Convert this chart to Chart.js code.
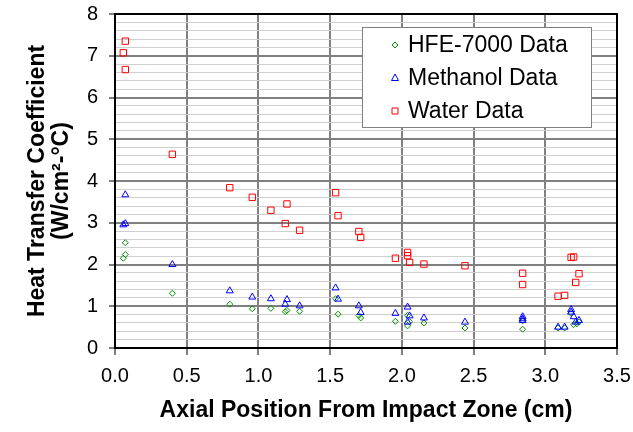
<!DOCTYPE html>
<html>
<head>
<meta charset="utf-8">
<script src="https://cdn.jsdelivr.net/npm/chart.js@4/dist/chart.umd.min.js"></script>
<style>
  html, body { margin: 0; padding: 0; background: #fff; }
  #wrap { width: 633px; height: 432px; }
</style>
</head>
<body>
<div id="wrap"><canvas id="myChart" width="633" height="432"></canvas></div>
<script>
// --- data
var hfeX = [0.072, 0.072, 0.058, 0.40, 0.80, 0.957, 1.087, 1.187, 1.199, 1.287, 1.538, 1.555, 1.70, 1.713, 1.955, 2.04, 2.054, 2.04, 2.154, 2.44, 2.842, 2.842, 3.089, 3.135, 3.18, 3.198, 3.22, 3.235];
var hfeY = [2.52, 2.24, 2.15, 1.31, 1.05, 0.94, 0.95, 0.87, 0.90, 0.88, 1.18, 0.81, 0.78, 0.72, 0.64, 0.78, 0.63, 0.53, 0.60, 0.48, 0.45, 0.65, 0.48, 0.48, 0.83, 0.56, 0.58, 0.62];

var methX = [0.072, 0.058, 0.072, 0.40, 0.80, 0.957, 1.087, 1.199, 1.187, 1.287, 1.538, 1.555, 1.70, 1.713, 1.955, 2.04, 2.054, 2.04, 2.154, 2.44, 2.842, 2.842, 2.842, 3.089, 3.135, 3.18, 3.18, 3.198, 3.212, 3.235];
var methY = [3.67, 2.95, 2.98, 2.00, 1.37, 1.22, 1.18, 1.16, 1.05, 1.01, 1.44, 1.17, 1.01, 0.85, 0.83, 0.98, 0.77, 0.62, 0.72, 0.62, 0.75, 0.70, 0.66, 0.50, 0.50, 0.92, 0.86, 0.75, 0.62, 0.66];

var waterX = [0.072, 0.058, 0.072, 0.40, 0.80, 0.957, 1.087, 1.199, 1.187, 1.287, 1.538, 1.555, 1.70, 1.713, 1.955, 2.04, 2.04, 2.054, 2.154, 2.44, 2.842, 2.842, 3.089, 3.135, 3.18, 3.198, 3.235, 3.212];
var waterY = [7.35, 7.07, 6.67, 4.64, 3.84, 3.61, 3.30, 3.45, 2.98, 2.82, 3.72, 3.17, 2.79, 2.65, 2.15, 2.29, 2.21, 2.05, 2.01, 1.97, 1.79, 1.52, 1.24, 1.26, 2.17, 2.18, 1.78, 1.57];

var seriesNames = ['HFE-7000 Data', 'Methanol Data', 'Water Data'];
var seriesColors = ['#009000', '#0000ff', '#ff0000'];

var xTitle = 'Axial Position From Impact Zone (cm)';
var yTitle = ['Heat Transfer Coefficient', '(W/cm\u00b2-\u00b0C)'];

function toPoints(xs, ys) {
    var pts = [];
    for (var i = 0; i < xs.length; i++) {
        pts.push({ x: xs[i], y: ys[i] });
    }
    return pts;
}

function isMajor(v) {
    return Math.abs(v - Math.round(v)) < 1e-6;
}

// frame round the plot area + legend box inside it
var framePlugin = {
    id: 'frame',
    afterDraw: function (chart) {
        var ctx = chart.ctx;
        var a = chart.chartArea;
        ctx.save();
        ctx.strokeStyle = '#000';
        ctx.lineWidth = 2;
        ctx.strokeRect(a.left, a.top, a.right - a.left, a.bottom - a.top);

        // legend
        var lx = 362, ly = 27, lw = 229, lh = 100;
        ctx.fillStyle = '#fff';
        ctx.fillRect(lx, ly, lw, lh);
        ctx.strokeStyle = '#808080';
        ctx.lineWidth = 1;
        ctx.strokeRect(lx + 0.5, ly + 0.5, lw, lh);

        ctx.font = '23px "Liberation Sans", Arial, sans-serif';
        ctx.textBaseline = 'middle';
        ctx.textAlign = 'left';
        for (var i = 0; i < seriesNames.length; i++) {
            var cy = 45 + i * 33;
            var cx = 395;
            ctx.strokeStyle = seriesColors[i];
            ctx.lineWidth = 1;
            ctx.beginPath();
            if (i == 0) {
                ctx.moveTo(cx - 3, cy); ctx.lineTo(cx, cy - 3);
                ctx.lineTo(cx + 3, cy); ctx.lineTo(cx, cy + 3);
                ctx.closePath();
            } else if (i == 1) {
                ctx.moveTo(cx, cy - 4); ctx.lineTo(cx + 3.5, cy + 2.5);
                ctx.lineTo(cx - 3.5, cy + 2.5);
                ctx.closePath();
            } else {
                ctx.rect(cx - 3, cy - 3, 6, 6);
            }
            ctx.stroke();
            ctx.fillStyle = '#000';
            ctx.fillText(seriesNames[i], 408, cy + 1);
        }
        ctx.restore();
    }
};

var ctx = document.getElementById('myChart');
var myChart = new Chart(ctx, {
    type: 'scatter',
    data: {
        datasets: [{
            label: seriesNames[0],
            data: toPoints(hfeX, hfeY),
            pointStyle: 'rectRot',
            pointRadius: 3,
            borderColor: seriesColors[0],
            backgroundColor: 'transparent',
            pointBorderWidth: 1,
            order: 3
        }, {
            label: seriesNames[1],
            data: toPoints(methX, methY),
            pointStyle: 'triangle',
            pointRadius: 4,
            borderColor: seriesColors[1],
            backgroundColor: 'transparent',
            pointBorderWidth: 1,
            order: 2
        }, {
            label: seriesNames[2],
            data: toPoints(waterX, waterY),
            pointStyle: 'rect',
            pointRadius: 4.5,
            borderColor: seriesColors[2],
            backgroundColor: 'transparent',
            pointBorderWidth: 1,
            order: 1
        }]
    },
    options: {
        responsive: false,
        animation: false,
        events: [],
        layout: { padding: { top: 14, right: 16, left: 0, bottom: 0 } },
        plugins: {
            legend: { display: false },
            tooltip: { enabled: false }
        },
        scales: {
            x: {
                type: 'linear',
                min: 0,
                max: 3.5,
                afterFit: function (scale) {
                    scale.height = 84;
                    scale.paddingLeft = 0;
                    scale.paddingRight = 0;
                },
                ticks: {
                    stepSize: 0.5,
                    color: '#000',
                    padding: 9,
                    maxRotation: 0,
                    font: { family: '"Liberation Sans", Arial, sans-serif', size: 20 },
                    callback: function (v) { return v.toFixed(1); }
                },
                grid: {
                    color: '#808080',
                    lineWidth: 2,
                    tickLength: 7,
                    tickColor: '#000',
                    tickWidth: 1
                },
                border: { color: '#000', width: 2 },
                title: {
                    display: true,
                    text: xTitle,
                    color: '#000',
                    font: { family: '"Liberation Sans", Arial, sans-serif', size: 23, weight: 'bold' },
                    padding: { top: 0, bottom: 8 }
                }
            },
            y: {
                type: 'linear',
                min: 0,
                max: 8,
                afterFit: function (scale) {
                    scale.width = 115;
                    scale.paddingTop = 0;
                    scale.paddingBottom = 0;
                },
                ticks: {
                    stepSize: 0.2,
                    color: '#000',
                    padding: 11,
                    autoSkip: false,
                    font: { family: '"Liberation Sans", Arial, sans-serif', size: 20 },
                    callback: function (v) { return isMajor(v) ? Math.round(v).toString() : ''; }
                },
                grid: {
                    color: function (c) { return isMajor(c.tick.value) ? '#808080' : '#cfcfcf'; },
                    lineWidth: function (c) { return isMajor(c.tick.value) ? 2 : 1; },
                    tickLength: 6,
                    tickColor: function (c) { return isMajor(c.tick.value) ? '#000' : 'rgba(0,0,0,0)'; },
                    tickWidth: 1
                },
                border: { color: '#000', width: 2 },
                title: {
                    display: true,
                    text: yTitle,
                    color: '#000',
                    font: { family: '"Liberation Sans", Arial, sans-serif', size: 23, weight: 'bold', lineHeight: '24px' },
                    padding: { top: 26, bottom: 0 }
                }
            }
        }
    },
    plugins: [framePlugin]
});
</script>
</body>
</html>
